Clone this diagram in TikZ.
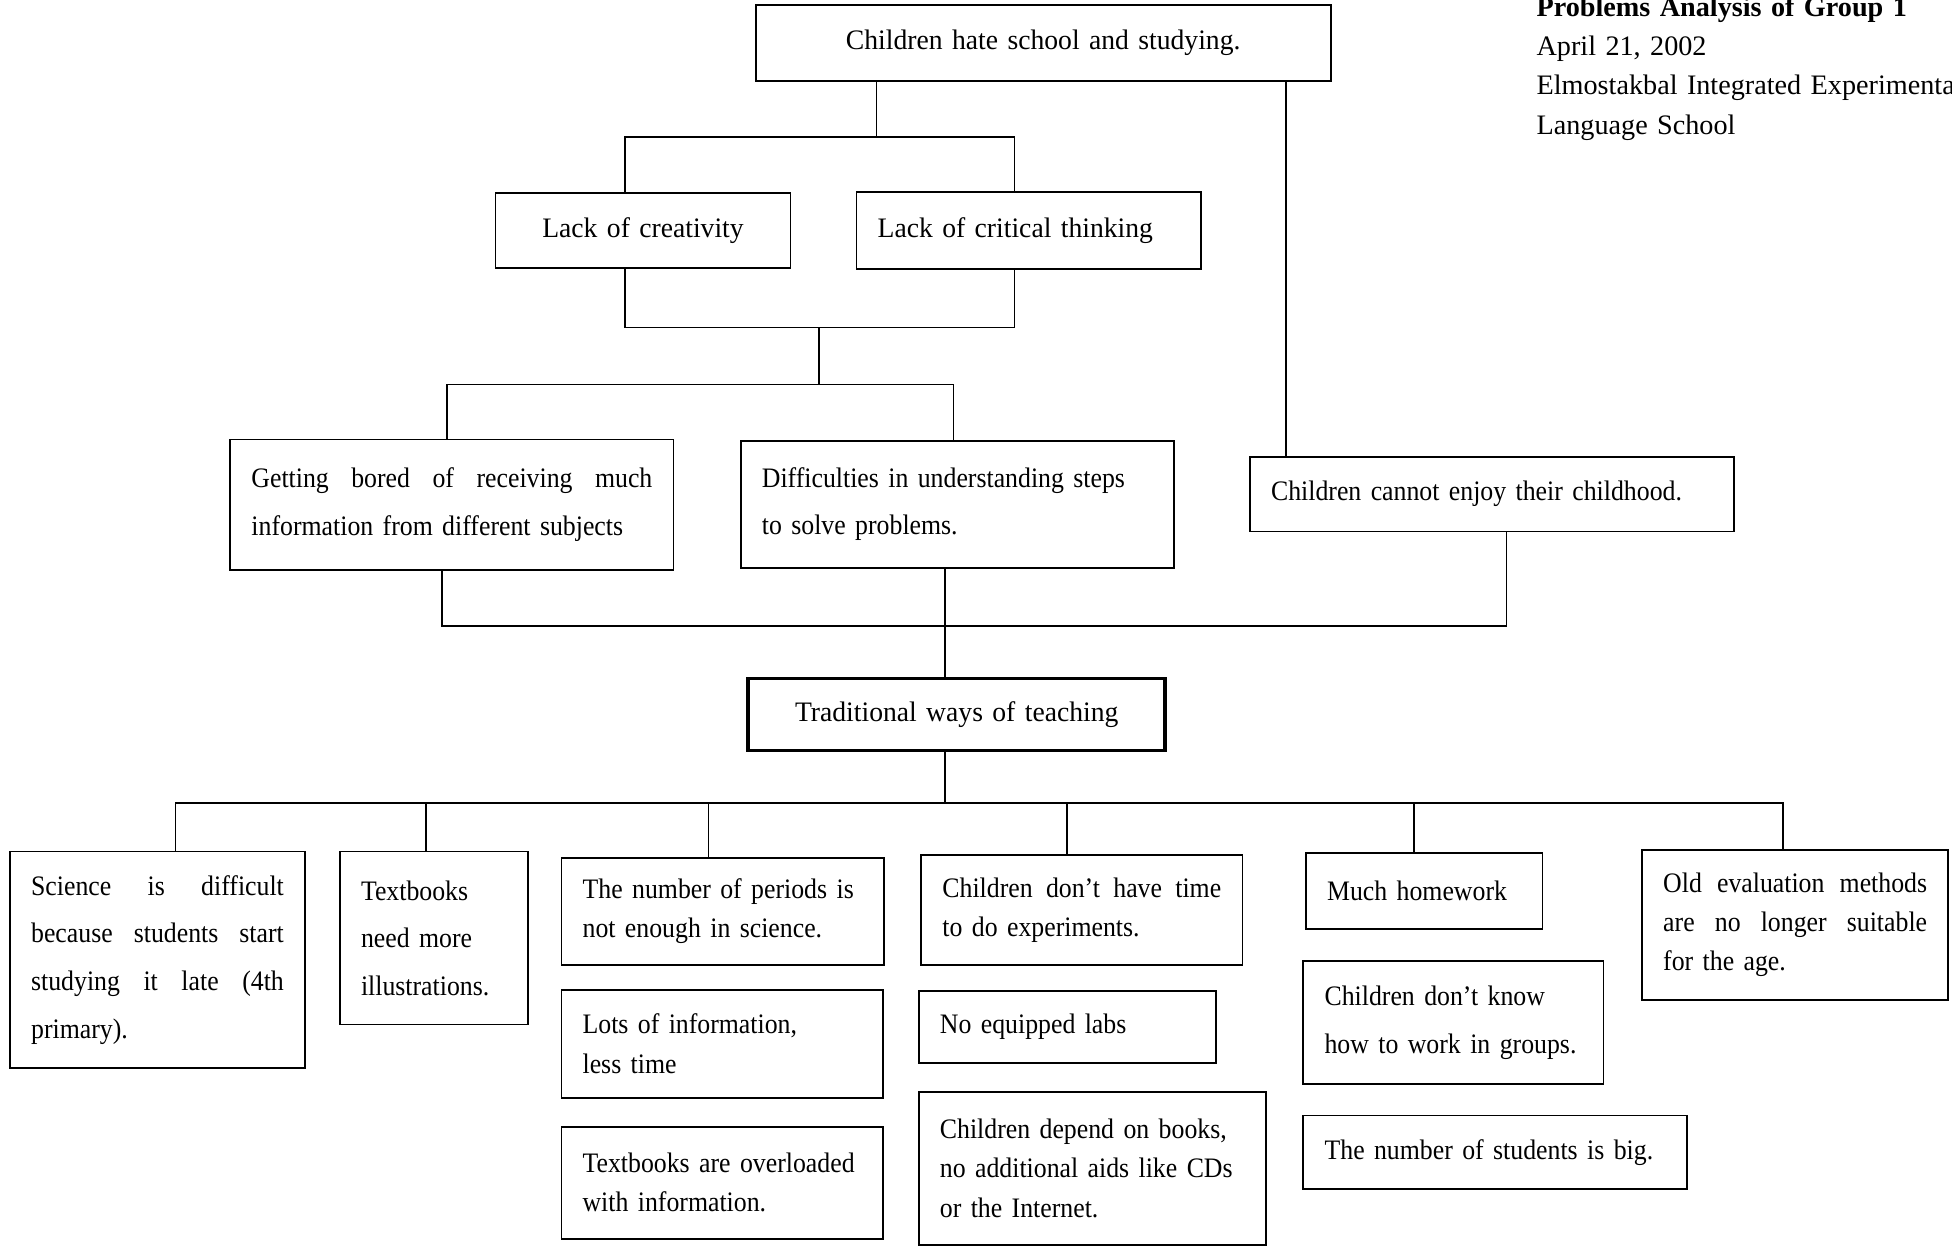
\documentclass[tikz,border=0pt]{standalone}
\usepackage{fontspec}
\setmainfont{Liberation Serif}
\newfontfamily\cnd{Liberation Serif}[FakeStretch=0.915]
\newfontfamily\cnda{Liberation Serif}[FakeStretch=0.98]
\newlength{\pxu}
\setlength{\pxu}{0.6225pt}
% a line spread out to the full text width (words separated by \hfill)
\newcommand{\jfy}[1]{\leavevmode\hbox to \hsize{#1}}
\tikzset{
  box/.style={draw, rectangle, line width=0.9pt, inner xsep=10.6pt, inner ysep=0pt,
              align=left, font=\cnd\fontsize{14.1}{19.3}\selectfont},
  cbox/.style={box, align=center},
  bx/.style 2 args={text width={(#1-34)*\pxu}, minimum height={#2*\pxu}},
  plain/.style={font=\cnda\fontsize{14.1}{19.3}\selectfont},
  wide/.style={font=\cnd\fontsize{14.1}{23.8}\selectfont},
  mid/.style={font=\cnd\fontsize{14.1}{19.9}\selectfont},
  link/.style={line width=0.8pt},
}
\begin{document}
\begin{tikzpicture}[x=\pxu, y=-\pxu]
\clip (0,0) rectangle (1568,1002);
\fill[white] (0,0) rectangle (1568,1002);

% heading
\node[anchor=base west, inner sep=0pt, align=left, text width=420\pxu,
      font=\fontsize{14.1}{19.7}\selectfont] (hdr) at (1234,12.9)
  {\textbf{Problems Analysis of Group 1}\\April 21, 2002\\Elmostakbal Integrated Experimental\\Language School};

% problem tree
\node[cbox, plain, bx={462}{61}] (top) at (838,34.5) {Children hate school and studying.};
\node[cbox, plain, bx={237}{60}] (creat) at (516.5,185) {Lack of creativity};
\node[box, plain, bx={277}{62}] (crit) at (826.5,185) {Lack of critical thinking};
\node[box, wide, bx={356}{105}] (bored) at (363,405.5)
  {\jfy{Getting\hfill bored\hfill of\hfill receiving\hfill much}\\information from different subjects};
\node[box, wide, bx={348}{102}] (diff) at (769,405)
  {Difficulties in understanding steps\\to solve problems.};
\node[box, bx={389}{60}] (enjoy) at (1198.5,397) {Children cannot enjoy their childhood.};
\node[cbox, plain, bx={335}{58}, line width=1.8pt] (trad) at (768.5,574) {Traditional ways of teaching};

% causes
\node[box, wide, bx={237}{174}] (sci) at (126.5,771)
  {\jfy{Science\hfill is\hfill difficult}\\\jfy{because\hfill students\hfill start}\\\jfy{studying\hfill it\hfill late\hfill (4th}\\primary).};
\node[box, wide, bx={151}{139}] (tb) at (348.5,753.5) {Textbooks\\need more\\illustrations.};
\node[box, bx={259}{86}] (per) at (580.5,732) {The number of periods is\\not enough in science.};
\node[box, mid, bx={258}{87}] (lots) at (580,838.5) {Lots of information,\\less time};
\node[box, bx={258}{90}] (over) at (580,950) {Textbooks are overloaded\\with information.};
\node[box, bx={258}{88}] (time) at (869,731) {\jfy{Children\hfill don’t\hfill have\hfill time}\\to do experiments.};
\node[box, bx={239}{58}] (labs) at (857.5,825) {No equipped labs};
\node[box, mid, bx={279}{123}] (books) at (877.5,938.5)
  {Children depend on books,\\no additional aids like CDs\\or the Internet.};
\node[box, bx={190}{61}] (hw) at (1144,715.5) {Much homework};
\node[box, wide, bx={241}{99}] (know) at (1167.5,821.5) {Children don’t know\\how to work in groups.};
\node[box, bx={308}{59}] (big) at (1201,925.5) {The number of students is big.};
\node[box, font=\cnd\fontsize{14.1}{19.6}\selectfont, bx={246}{120}] (old) at (1442,743)
  {\jfy{Old\hfill evaluation\hfill methods}\\\jfy{are\hfill no\hfill longer\hfill suitable}\\for the age.};

% junction points
\coordinate (s1) at (704,110);
\coordinate (b1l) at (502,110);
\coordinate (b1r) at (815,110);
\coordinate (r1) at (1033,200);
\coordinate (b2l) at (502,263);
\coordinate (b2r) at (815,263);
\coordinate (s2) at (658,263);
\coordinate (b3) at (658,309);
\coordinate (b3l) at (359,309);
\coordinate (b3r) at (766,309);
\coordinate (b4l) at (355,503);
\coordinate (b4r) at (1210,503);
\coordinate (s4) at (759,503);
\coordinate (s5) at (759,645);
\coordinate (b5l) at (141,645);
\coordinate (b5r) at (1432,645);
\coordinate (v2) at (342,645);
\coordinate (v3) at (569,645);
\coordinate (v4) at (857,645);
\coordinate (v5) at (1136,645);

% connectors
\draw[link] (top.south -| s1) -- (s1);
\draw[link] (creat.north -| b1l) |- (b1r) -- (crit.north -| b1r);
\draw[link] (top.south -| r1) -- (enjoy.north -| r1);
\draw[link] (creat.south -| b2l) |- (b2r) -- (crit.south -| b2r);
\draw[link] (s2) -- (b3);
\draw[link] (bored.north -| b3l) |- (b3r) -- (diff.north -| b3r);
\draw[link] (bored.south -| b4l) |- (b4r) -- (enjoy.south -| b4r);
\draw[link] (diff.south -| s4) -- (trad.north -| s4);
\draw[link] (trad.south -| s5) -- (s5);
\draw[link] (sci.north -| b5l) |- (b5r) -- (old.north -| b5r);
\draw[link] (v2) -- (tb.north -| v2);
\draw[link] (v3) -- (per.north -| v3);
\draw[link] (v4) -- (time.north -| v4);
\draw[link] (v5) -- (hw.north -| v5);
\end{tikzpicture}
\end{document}
